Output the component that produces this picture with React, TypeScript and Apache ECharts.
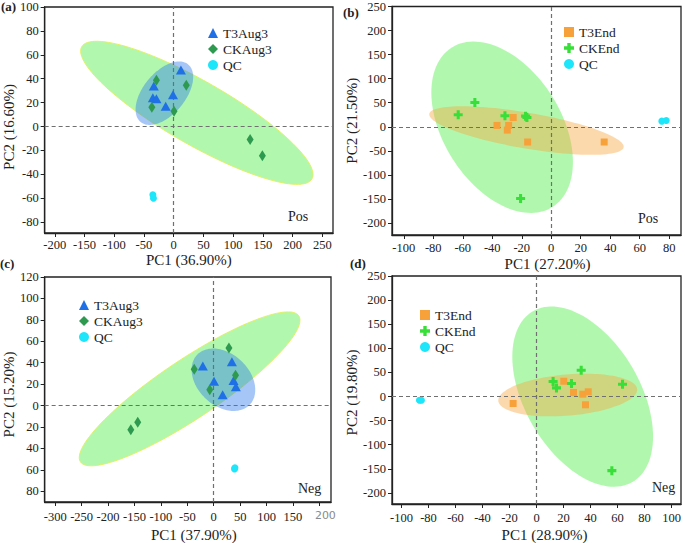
import React, { useEffect, useRef } from 'react';
import * as echarts from 'echarts';

// ---------- data ----------
// Panel (a): Pos, Aug3
const aT3Aug3 = [[12.2, 47.3], [-33.4, 33.9], [-35, 24.1], [-29, 23.2], [-1.1, 26.6], [-13.4, 17.1]];
const aCKAug3 = [[-29, 38.7], [21.2, 34.5], [-36.7, 16.2], [0.6, 12.9], [128.6, -10.9], [149.2, -24.4]];
const aQC = [[-35, -57.1], [-34, -60]];
// ellipse: [centerX, centerY, majorEndX, majorEndY, minorEndX, minorEndY]
const aEllCK = [39.0, 11.5, 232.7, -43.7, 65.0, 34.6];
const aEllT3 = [-15.6, 27.9, 24.8, 51.8, 11.1, 16.4];

// Panel (b): Pos, End
const bT3End = [[-25.8, 19.3], [-36.8, 2.8], [-28.9, 2.8], [-29.8, -6.9], [-16.0, -31.7], [35.9, -31.7]];
const bCKEnd = [[-51.8, 50.3], [-63.1, 24.8], [-31.4, 22.8], [-17.4, 22.1], [-16.5, 19.3], [-20.8, -149]];
const bQC = [[75.0, 11.7], [78.0, 13.1]];
const bEllCK = [-33.3, -1.0, 0.8, -166.9, 0.5, 63.9];
const bEllT3 = [-16.8, -7.9, 49.1, -42.6, -14.8, 28.8];

// Panel (c): Neg, Aug3
const cT3Aug3 = [[-20.6, 36.9], [34.4, 40.9], [0.6, 22.8], [37.5, 23.4], [41.9, 17.5], [16.9, 10.0]];
const cCKAug3 = [[28.8, 53.8], [-36.9, 33.8], [41.3, 28.4], [-7.5, 14.7], [-143.8, -15.6], [-156.9, -22.5]];
const cQC = [[39.4, -59.1], [40.2, -58.0]];
const cEllCK = [-45.6, 15.6, 161.1, 83.7, -15.4, -7.3];
const cEllT3 = [18.4, 24.1, 68.9, 1.2, 51.2, 42.1];

// Panel (d): Neg, End
const dT3End = [[20.2, 31.7], [27.4, 8.3], [34.3, 4.8], [38.3, 9.7], [36.3, -17.2], [-17.3, -14.5]];
const dCKEnd = [[33.1, 54.5], [12.3, 31.0], [14.8, 17.9], [25.9, 26.9], [63.7, 25.5], [55.8, -153.8]];
const dQC = [[-86.7, -7.6], [-85.2, -7.6]];
const dEllCK = [34.2, -0.3, 71.0, -177.5, 71.1, 59.5];
const dEllT3 = [23.1, 3.1, 74.5, 15.2, 24.4, -39.5];

// tick values
const aXTicks = [-200, -150, -100, -50, 0, 50, 100, 150, 200, 250];
const aYTicks = [-80, -60, -40, -20, 0, 20, 40, 60, 80, 100];
const bXTicks = [-100, -80, -60, -40, -20, 0, 20, 40, 60, 80];
const bYTicks = [-200, -150, -100, -50, 0, 50, 100, 150, 200, 250];
const cXTicks = [-300, -250, -200, -150, -100, -50, 0, 50, 100, 150, 200];
const cYTicks = [-80, -60, -40, -20, 0, 20, 40, 60, 80, 100, 120];
const dXTicks = [-100, -80, -60, -40, -20, 0, 20, 40, 60, 80, 100];
const dYTicks = [-200, -150, -100, -50, 0, 50, 100, 150, 200, 250];

const xNames = ['PC1 (36.90%)', 'PC1 (27.20%)', 'PC1 (37.90%)', 'PC1 (28.90%)'];
const yNames = ['PC2 (16.60%)', 'PC2 (21.50%)', 'PC2 (15.20%)', 'PC2 (19.80%)'];
const panelTags = ['(a)', '(b)', '(c)', '(d)'];
const modeTags = ['Pos', 'Pos', 'Neg', 'Neg'];

// ---------- styles ----------
const FONT = 'Liberation Serif';
const BLUE = '#1f6fe6';
const DKGREEN = '#2e9a50';
const CYAN = '#1ee6fa';
const ORANGE = '#f7a13a';
const LIME = '#38df38';
const CROSS = 'path://M3.3,0H6.7V3.3H10V6.7H6.7V10H3.3V6.7H0V3.3H3.3Z';

const grids = [
  { left: 43, top: 7, width: 290, height: 226 },
  { left: 392, top: 6, width: 289, height: 229 },
  { left: 42, top: 277, width: 289, height: 226 },
  { left: 392, top: 276, width: 289, height: 229 },
];
const xRanges = [[-217, 268], [-108, 88], [-320, 222], [-107, 107]];
const yRanges = [[-89, 100], [-225, 250], [-90, 120], [-223, 250]];
const xTickSets = [aXTicks, bXTicks, cXTicks, dXTicks];
const yTickSets = [aYTicks, bYTicks, cYTicks, dYTicks];
const xNameGaps = [19, 21, 25, 23];
const yNameGaps = [21, 28, 26, 28];
const xNamePads = [[0, 0, 0, 0], [0, 0, 0, 22], [0, 0, 0, 12], [0, 0, 0, 16]];
const yNamePads = [[0, 14, 0, 0], [0, 0, 0, 0], [0, 10, 0, 0], [0, 5, 0, 0]];
const xLabelMargins = [5, 6, 8, 7];

function ellipseRenderer(fill: string, stroke: string, lw: number) {
  return (params: any, api: any) => {
    const c = api.coord([api.value(0), api.value(1)]);
    const m = api.coord([api.value(2), api.value(3)]);
    const n = api.coord([api.value(4), api.value(5)]);
    const ux = m[0] - c[0], uy = m[1] - c[1];
    const vx = n[0] - c[0], vy = n[1] - c[1];
    const pts: number[][] = [];
    const N = 120;
    for (let k = 0; k < N; k++) {
      const t = (k / N) * Math.PI * 2;
      pts.push([c[0] + ux * Math.cos(t) + vx * Math.sin(t), c[1] + uy * Math.cos(t) + vy * Math.sin(t)]);
    }
    return {
      type: 'polygon',
      shape: { points: pts },
      style: { fill, stroke, lineWidth: lw },
    };
  };
}

function ellipseSeries(idx: number, ell: number[], fill: string, stroke: string, lw: number) {
  return {
    type: 'custom',
    xAxisIndex: idx,
    yAxisIndex: idx,
    silent: true,
    z: 1,
    dimensions: ['cx', 'cy', 'mx', 'my', 'nx', 'ny'],
    encode: { x: [0, 2, 4], y: [1, 3, 5] },
    renderItem: ellipseRenderer(fill, stroke, lw),
    data: [ell],
    clip: true,
  };
}

function scatter(idx: number, name: string, data: number[][], symbol: string, size: any, color: string, withLines = false) {
  const s: any = {
    type: 'scatter',
    name,
    xAxisIndex: idx,
    yAxisIndex: idx,
    data,
    symbol,
    symbolSize: size,
    itemStyle: { color, opacity: 1 },
    z: 5,
  };
  if (withLines) {
    s.markLine = {
      silent: true,
      symbol: ['none', 'none'],
      label: { show: false },
      lineStyle: { type: [4, 3], color: '#707070', width: 1.2 },
      data: [{ xAxis: 0 }, { yAxis: 0 }],
      z: 2,
    };
  }
  return s;
}

const GREEN_FILL = 'rgba(40, 235, 30, 0.36)';
const BLUE_FILL = 'rgba(40, 120, 235, 0.42)';
const ORANGE_FILL = 'rgba(247, 165, 60, 0.42)';

export default function App() {
  const ref = useRef<HTMLDivElement>(null);
  useEffect(() => {
    if (!ref.current) return;
    const chart = echarts.init(ref.current, undefined, { renderer: 'svg' });

    const xAxis = grids.map((_, i) => ({
      type: 'value',
      gridIndex: i,
      min: xRanges[i][0],
      max: xRanges[i][1],
      name: xNames[i],
      nameLocation: 'middle',
      nameGap: xNameGaps[i],
      nameTextStyle: { fontFamily: FONT, fontSize: 15, color: '#222', padding: xNamePads[i] },
      axisLine: { show: true, onZero: false, lineStyle: { color: '#222', width: 1.3 } },
      axisTick: { show: true, length: 4, customValues: xTickSets[i], lineStyle: { color: '#222', width: 1 } },
      axisLabel: {
        customValues: xTickSets[i],
        margin: xLabelMargins[i],
        fontFamily: FONT,
        fontSize: 12.5,
        color: '#222',
        formatter: (v: number) => (i === 2 && v === 200 ? '{g|200}' : String(v)),
        rich: { g: { color: '#8a8a8a', fontFamily: 'DejaVu Sans', fontSize: 11, padding: [0, 0, 0, 12] } },
      },
      splitLine: { show: false },
    }));

    const yAxis = grids.map((_, i) => ({
      type: 'value',
      gridIndex: i,
      min: yRanges[i][0],
      max: yRanges[i][1],
      name: yNames[i],
      nameLocation: 'middle',
      nameGap: yNameGaps[i],
      nameRotate: 90,
      nameTextStyle: { fontFamily: FONT, fontSize: 15, color: '#222', padding: yNamePads[i] },
      axisLine: { show: true, onZero: false, lineStyle: { color: '#222', width: 1.3 } },
      axisTick: { show: true, length: 4, customValues: yTickSets[i], lineStyle: { color: '#222', width: 1 } },
      axisLabel: {
        customValues: yTickSets[i],
        margin: 6,
        fontFamily: FONT,
        fontSize: 12.5,
        color: '#222',
        formatter: (v: number) => (i === 2 ? String(Math.abs(v)) : String(v)),
      },
      splitLine: { show: false },
    }));

    const legendText = { fontFamily: FONT, fontSize: 13.5, color: '#222' };
    const legends = [
      { left: 208, top: 26, data: ['T3Aug3', 'CKAug3', 'QC'] },
      { left: 564, top: 25, data: ['T3End', 'CKEnd', 'QC'] },
      { left: 79, top: 298, data: ['T3Aug3', 'CKAug3', 'QC'] },
      { left: 420, top: 308, data: ['T3End', 'CKEnd', 'QC'] },
    ].map((l) => ({
      ...l,
      orient: 'vertical',
      align: 'left',
      padding: 0,
      itemGap: 2,
      itemWidth: 10,
      itemHeight: 10,
      textStyle: legendText,
      selectedMode: false,
    }));

    const series: any[] = [
      // (a)
      ellipseSeries(0, aEllCK, GREEN_FILL, 'rgba(225, 240, 90, 0.9)', 1),
      ellipseSeries(0, aEllT3, BLUE_FILL, 'none', 0),
      scatter(0, 'T3Aug3', aT3Aug3, 'triangle', [10, 9], BLUE, true),
      scatter(0, 'CKAug3', aCKAug3, 'diamond', [7, 11], DKGREEN),
      scatter(0, 'QC', aQC, 'circle', 7, CYAN),
      // (b)
      ellipseSeries(1, bEllCK, GREEN_FILL, 'none', 0),
      ellipseSeries(1, bEllT3, ORANGE_FILL, 'none', 0),
      scatter(1, 'T3End', bT3End, 'rect', 7, ORANGE, true),
      scatter(1, 'CKEnd', bCKEnd, CROSS, 9, LIME),
      scatter(1, 'QC', bQC, 'circle', 7, CYAN),
      // (c)
      ellipseSeries(2, cEllCK, GREEN_FILL, 'rgba(225, 240, 90, 0.9)', 1),
      ellipseSeries(2, cEllT3, BLUE_FILL, 'none', 0),
      scatter(2, 'T3Aug3', cT3Aug3, 'triangle', [10, 9], BLUE, true),
      scatter(2, 'CKAug3', cCKAug3, 'diamond', [7, 11], DKGREEN),
      scatter(2, 'QC', cQC, 'circle', 7, CYAN),
      // (d)
      ellipseSeries(3, dEllCK, GREEN_FILL, 'none', 0),
      ellipseSeries(3, dEllT3, ORANGE_FILL, 'none', 0),
      scatter(3, 'T3End', dT3End, 'rect', 7, ORANGE, true),
      scatter(3, 'CKEnd', dCKEnd, CROSS, 9, LIME),
      scatter(3, 'QC', dQC, 'circle', 7, CYAN),
    ];

    const tagPos = [[1, 7], [343, 13], [0, 264], [350, 264]];
    const modePos = [[288, 217], [638, 219], [298, 489], [652, 488]];
    const graphic: any[] = [];
    panelTags.forEach((t, i) => {
      graphic.push({
        type: 'text',
        left: tagPos[i][0],
        top: tagPos[i][1] - 7,
        style: { text: t, font: `bold 13px ${FONT}`, fill: '#222' },
        silent: true,
      });
    });
    modeTags.forEach((t, i) => {
      graphic.push({
        type: 'text',
        left: modePos[i][0],
        top: modePos[i][1] - 8,
        style: { text: t, font: `14px ${FONT}`, fill: '#222' },
        silent: true,
        z: 10,
      });
    });

    chart.setOption({
      animation: false,
      backgroundColor: '#ffffff',
      textStyle: { fontFamily: FONT },
      grid: grids.map((g) => ({ ...g, show: true, borderColor: '#222', borderWidth: 1.3, backgroundColor: 'transparent' })),
      xAxis,
      yAxis,
      legend: legends,
      series,
      graphic,
    });
    return () => chart.dispose();
  }, []);

  return <div ref={ref} style={{ position: 'absolute', left: 0, top: 0, width: 685, height: 543 }} />;
}
